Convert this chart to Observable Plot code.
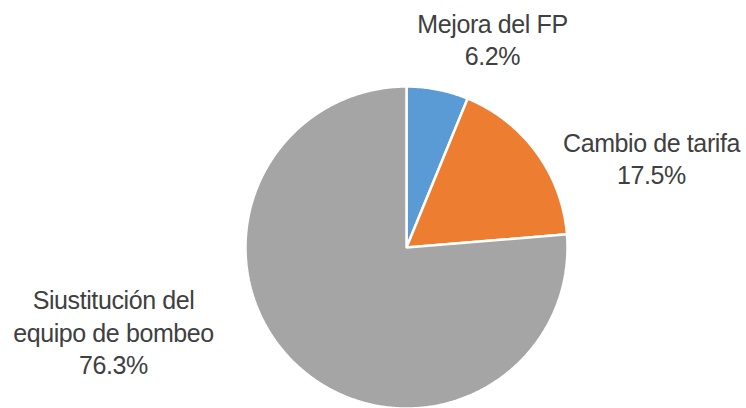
<!DOCTYPE html>
<html>
<head>
<meta charset="utf-8">
<script src="https://cdn.jsdelivr.net/npm/d3@7"></script>
<script src="https://cdn.jsdelivr.net/npm/@observablehq/plot@0.6"></script>
<style>
  html, body { margin: 0; padding: 0; background: #fff; }
  #chart { width: 746px; height: 408px; }
  #chart svg text { letter-spacing: -0.4px; }
</style>
</head>
<body>
<div id="chart"></div>
<script>
const categories = ["Mejora del FP", "Cambio de tarifa", "Siustitución del\nequipo de bombeo"];
const values = [6.2, 17.5, 76.3];
const colors = ["#5B9BD5", "#ED7D31", "#A5A5A5"];
const valueLabels = ["6.2%", "17.5%", "76.3%"];

// layout (pixels)
const W = 746, H = 408, cx = 406, cy = 247, R = 161;
// label block centers (pixels)
const labelPos = [[492, 38], [651, 157], [113, 331]];

const pie = d3.pie().sort(null).value(d => d)(values);

const pts = [];
pie.forEach((p, i) => {
  pts.push({k: i, x: 0, y: 0});
  const n = Math.max(2, Math.ceil((p.endAngle - p.startAngle) / (Math.PI / 360)));
  for (let j = 0; j <= n; j++) {
    const a = p.startAngle + (p.endAngle - p.startAngle) * j / n;
    pts.push({k: i, x: Math.sin(a), y: Math.cos(a)});
  }
});

const labels = categories.map((c, i) => ({
  text: c + "\n" + valueLabels[i],
  x: (labelPos[i][0] - cx) / R,
  y: (cy - labelPos[i][1]) / R
}));

const chart = Plot.plot({
  width: W,
  height: H,
  margin: 0,
  x: {domain: [-cx / R, (W - cx) / R], range: [0, W], axis: null},
  y: {domain: [-(H - cy) / R, cy / R], range: [H, 0], axis: null},
  style: {fontFamily: "'Liberation Sans Narrow', 'Arial Narrow', 'Liberation Sans', sans-serif", background: "#fff"},
  marks: [
    Plot.line(pts, {x: "x", y: "y", z: "k", curve: "linear-closed",
      fill: d => colors[d.k], stroke: "#fff", strokeWidth: 2.5, strokeLinejoin: "miter"}),
    Plot.text(labels, {x: "x", y: "y", text: "text", fontSize: 25, lineHeight: 1.3,
      fill: "#404040", textAnchor: "middle", lineAnchor: "middle"})
  ]
});
document.getElementById("chart").appendChild(chart);
</script>
</body>
</html>
